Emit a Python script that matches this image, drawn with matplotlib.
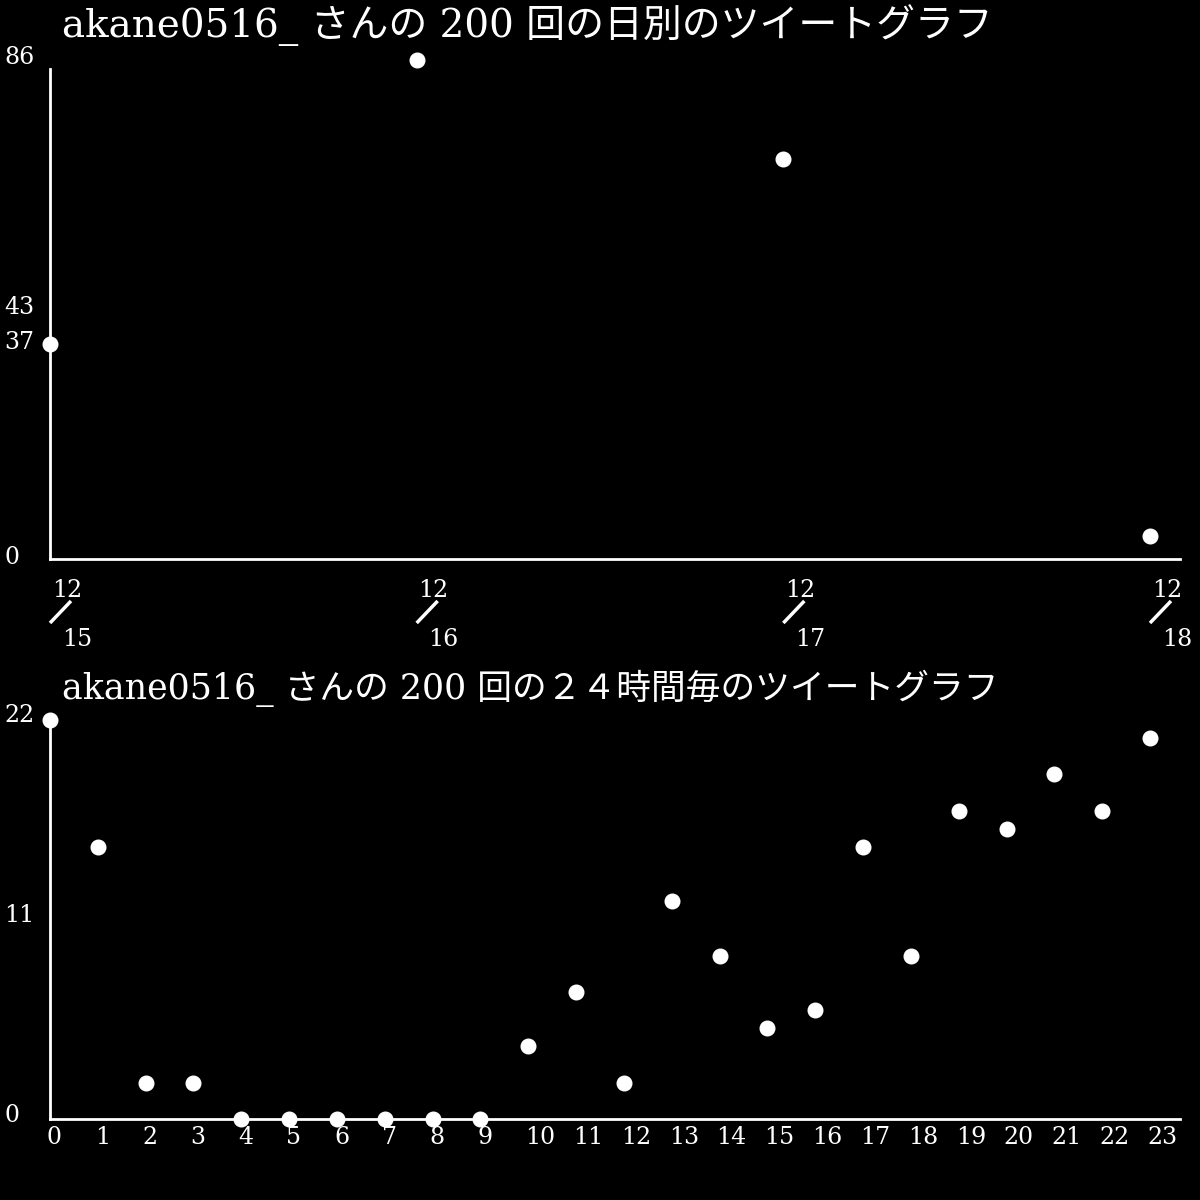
import matplotlib
matplotlib.use('Agg')
import matplotlib.pyplot as plt
import matplotlib.transforms as mtransforms

plt.rcParams['font.family'] = ['DejaVu Serif', 'Noto Sans CJK JP']

# daily counts
day_month = ['12', '12', '12', '12']
day_day = ['15', '16', '17', '18']
day_counts = [37, 86, 69, 4]
day_yticks = [0, 43, 37, 86]

# hourly counts
hours = list(range(24))
hour_counts = [22, 15, 2, 2, 0, 0, 0, 0, 0, 0, 4, 7, 2, 12, 9, 5, 6, 15, 9, 17, 16, 19, 17, 21]
hour_yticks = [0, 11, 22]

title_day = 'akane0516_ さんの 200 回の日別のツイートグラフ'
title_hour = 'akane0516_ さんの 200 回の２４時間毎のツイートグラフ'

W = 1200.0
fig = plt.figure(figsize=(12, 12), dpi=100, facecolor='black')


def px(y):
    return 1 - y / W


def make_axes(y_top, y_bottom):
    ax = fig.add_axes([50 / W, px(y_bottom), 1130 / W, (y_bottom - y_top) / W])
    ax.set_facecolor('black')
    for s in ['top', 'right']:
        ax.spines[s].set_visible(False)
    for s in ['left', 'bottom']:
        ax.spines[s].set_color('white')
        ax.spines[s].set_linewidth(2)
    ax.tick_params(length=0)
    ax.set_yticks([])
    return ax


def ylabels(ax, ticks, dy):
    tr = mtransforms.blended_transform_factory(fig.transFigure, ax.transData)
    tr = mtransforms.offset_copy(tr, fig, x=0, y=dy, units='dots')
    for t in ticks:
        ax.text(4 / W, t, str(t), transform=tr, color='white', fontsize=17,
                ha='left', va='center', family='DejaVu Serif')


# top: per-day
ax1 = make_axes(60, 559)
x1 = list(range(len(day_counts)))
x1max = 3 + 30 / (1100 / 3)
ax1.set_xlim(0, x1max)
ax1.set_ylim(0, 86)
ax1.spines['left'].set_bounds(0, 84.5)
ax1.plot(x1, day_counts, 'o', color='white', markersize=10.5, clip_on=False, zorder=5)
ax1.set_xticks([])
ylabels(ax1, day_yticks, 2)

px_per_day = 1130 / x1max
trd = mtransforms.blended_transform_factory(ax1.transData, fig.transFigure)
for i, (m, d) in enumerate(zip(day_month, day_day)):
    ax1.text(i + 17 / px_per_day, px(591), m, transform=trd, color='white',
             fontsize=17, ha='center', va='center', clip_on=False)
    ax1.text(i + 27 / px_per_day, px(640), d, transform=trd, color='white',
             fontsize=17, ha='center', va='center', clip_on=False)
    ax1.plot([i, i + 21 / px_per_day], [px(623), px(601)], transform=trd,
             color='white', linewidth=2.5, clip_on=False, solid_capstyle='butt')

fig.text(62 / W, px(25), title_day, color='white', fontsize=28, ha='left', va='center')

# bottom: per-hour
ax2 = make_axes(720, 1119)
ax2.set_xlim(0, 23 + 30 / (1100 / 23))
ax2.set_ylim(0, 22)
ax2.spines['left'].set_bounds(0, 21.8)
ax2.plot(hours, hour_counts, 'o', color='white', markersize=10.5, clip_on=False, zorder=5)
ax2.set_xticks(hours)
ax2.set_xticklabels([str(h) for h in hours], color='white', fontsize=17)
ax2.tick_params(axis='x', pad=5)
for lab in ax2.get_xticklabels():
    lab.set_horizontalalignment('left')
    lab.set_transform(lab.get_transform() + mtransforms.ScaledTranslation(-3 / 100, 0, fig.dpi_scale_trans))
ylabels(ax2, hour_yticks, 4)

fig.text(62 / W, px(688), title_hour, color='white', fontsize=25, ha='left', va='center')

fig.savefig('out.png', dpi=100, facecolor='black')
